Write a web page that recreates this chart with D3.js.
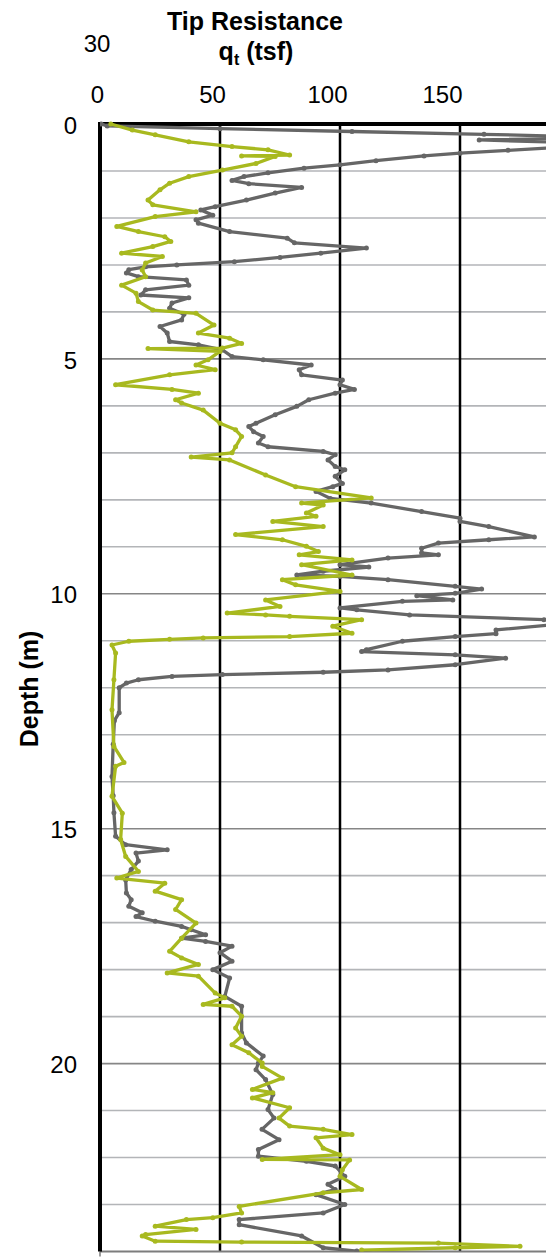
<!DOCTYPE html>
<html>
<head>
<meta charset="utf-8">
<script src="https://cdn.jsdelivr.net/npm/d3@7"></script>
<style>
  html, body { margin: 0; padding: 0; background: #fff; overflow: hidden; }
  svg { display: block; font-family: "Liberation Sans", Arial, sans-serif; }
</style>
</head>
<body>
<div id="chart"></div>
<script>
// Cone tip resistance profiles: [depth (m), qt (tsf)]
const soundingGray = [
  [0.00,0.5],[0.04,3],[0.10,50],[0.16,105],[0.22,160],[0.27,200],[0.30,205],[0.34,158],[0.39,195],[0.44,205],
  [0.50,190],[0.56,170],[0.62,150],[0.68,135],[0.78,115],[0.87,100],[0.94,85],[1.04,70],[1.12,60],[1.20,55],
  [1.27,62],[1.35,84],[1.47,73],[1.62,61],[1.76,48],[1.83,42],[1.94,47],[2.04,40],[2.11,41],[2.29,54],
  [2.43,78],[2.53,81],[2.64,111],[2.75,92],[2.84,75],[2.93,56],[3.00,32],[3.04,19],[3.10,12],[3.17,11],
  [3.25,16],[3.32,36],[3.43,37],[3.53,19],[3.64,17],[3.70,37],[3.81,30],[3.92,29],[4.05,35],[4.17,34],
  [4.31,25],[4.45,28],[4.63,29],[4.70,41],[4.81,51],[4.95,55],[5.02,68],[5.13,88],[5.23,83],[5.34,84],
  [5.45,101],[5.55,100],[5.65,106],[5.73,98],[5.87,87],[6.01,82],[6.19,73],[6.37,65],[6.44,62],[6.55,64],
  [6.65,68],[6.79,66],[6.87,70],[6.97,93],[7.04,98],[7.15,95],[7.29,98],[7.36,102],[7.50,98],[7.65,101],
  [7.72,97],[7.82,90],[7.97,96],[8.07,113],[8.25,134],[8.39,150],[8.46,150],[8.57,162],[8.79,181],[8.85,162],
  [8.92,141],[9.03,134],[9.13,134],[9.17,141],[9.24,120],[9.38,100],[9.43,112],[9.52,93],[9.60,82],[9.63,100],
  [9.70,120],[9.84,148],[9.90,159],[9.99,148],[10.04,132],[10.13,147],[10.16,126],[10.30,100],[10.34,107],[10.45,129],
  [10.55,185],[10.60,198],[10.66,188],[10.77,165],[10.85,165],[10.91,148],[11.01,126],[11.19,111],[11.23,109],[11.30,148],
  [11.37,169],[11.51,148],[11.62,120],[11.67,93],[11.72,51],[11.76,30],[11.83,16],[11.90,11],[12.00,8],[12.53,8],
  [12.70,6],[13.20,5.5],[13.89,5],[14.30,5.5],[14.66,5.8],[15.16,6.5],[15.34,10.7],[15.45,28],[15.52,15],[15.69,16],
  [15.87,13],[16.09,10.7],[16.37,11],[16.51,13],[16.65,12],[16.79,17.6],[16.87,15],[16.97,23],[17.08,34],[17.15,38],
  [17.26,44],[17.33,34],[17.40,44],[17.50,55],[17.64,50],[17.82,55],[18.00,47],[18.18,54],[18.57,52],[18.78,59],
  [19.35,59],[19.56,61],[19.84,68],[19.99,66],[20.13,65],[20.34,69],[20.66,72],[20.98,70],[21.16,72.5],[21.40,67.5],
  [21.62,74.6],[21.83,66],[21.97,66],[22.08,86],[22.18,98],[22.40,102],[22.57,95],[22.68,98],[22.79,90],[23.00,102],
  [23.18,93],[23.32,58],[23.43,58],[23.67,84],[23.92,93],[23.99,107],[24.10,120]
];

const soundingGreen = [
  [0.00,4.5],[0.13,13.5],[0.23,23],[0.38,37],[0.48,55],[0.55,70],[0.66,79],[0.68,59],[0.69,73],[0.84,65],
  [0.98,51],[1.12,37],[1.26,29],[1.40,25],[1.62,20],[1.72,22],[1.87,40],[1.97,23],[2.18,7],[2.29,16],
  [2.40,27],[2.50,29.5],[2.61,22],[2.75,9],[2.82,26],[2.96,19],[3.11,17.6],[3.25,19],[3.43,9],[3.60,15],
  [3.78,16],[3.96,22],[4.03,40],[4.28,47.5],[4.45,41],[4.56,54],[4.67,59],[4.77,51],[4.78,20],[4.84,50],
  [5.02,45],[5.13,40],[5.23,48],[5.34,29],[5.55,6.5],[5.65,30],[5.73,41],[5.87,31.5],[5.94,34],[6.09,43],
  [6.37,50],[6.51,56.5],[6.65,59],[6.87,56.5],[7.00,55],[7.09,38],[7.15,54],[7.47,69],[7.72,81.5],[7.96,113],
  [8.07,84],[8.11,93],[8.28,86],[8.35,90],[8.46,72],[8.57,93],[8.74,56.5],[8.85,76],[8.99,86],[9.10,91],
  [9.17,83],[9.28,105],[9.38,84],[9.60,105],[9.70,76],[9.81,81.5],[9.95,100],[10.13,69],[10.27,75],[10.41,53],
  [10.45,69],[10.48,79],[10.55,109],[10.69,97],[10.84,105],[10.91,79],[10.94,43],[10.97,29],[11.01,12],[11.09,5],
  [11.26,6.5],[11.83,5.8],[12.47,5],[13.25,5.8],[13.59,10],[13.67,6.5],[14.31,5],[14.67,9.3],[15.23,8.6],[15.59,10.7],
  [15.91,16],[16.05,7],[16.16,27],[16.33,23],[16.51,34],[16.72,31.5],[17.01,40],[17.33,34],[17.61,29],[17.75,34],
  [17.89,41],[18.07,28],[18.14,41],[18.50,48],[18.60,52],[18.74,43],[18.78,55],[18.99,59],[19.24,56.5],[19.42,59],
  [19.60,55],[19.77,62],[19.99,67.6],[20.06,67.6],[20.31,76],[20.55,63.5],[20.62,72],[20.73,63.5],[20.94,79],[21.16,74.6],
  [21.33,79],[21.40,93],[21.51,105],[21.58,90],[21.80,93],[21.94,100],[22.04,67.6],[22.05,104],[22.26,101],[22.40,100],
  [22.68,109],[22.75,93],[23.04,58],[23.18,59],[23.28,47],[23.32,36],[23.46,23],[23.53,40],[23.64,19],[23.67,17.6],
  [23.78,23],[23.80,59],[23.82,141],[23.89,175],[23.92,148],[23.97,109]
];

const qtTicks = [0, 50, 100, 150];
const qtGrid = [50, 100, 150, 200];
const depthTicks = [0, 5, 10, 15, 20];
const depthMinor = d3.range(1, 24);

const W = 546, H = 1257;
const svg = d3.select("#chart").append("svg").attr("width", W).attr("height", H);

const x = d3.scaleLinear().domain([0, 200]).range([100, 580]);
const y = d3.scaleLinear().domain([0, 24]).range([124, 1251.5]);
// tick labels along the top sit on their own, slightly tighter spacing
const xLabel = d3.scaleLinear().domain([0, 150]).range([97, 442]);

// horizontal grid: light every metre, darker every 5 m
svg.append("g").selectAll("line").data(depthMinor).join("line")
  .attr("x1", x(0)).attr("x2", W)
  .attr("y1", d => y(d)).attr("y2", d => y(d))
  .attr("stroke", d => d % 5 === 0 ? "#868686" : "#b3b5b8")
  .attr("stroke-width", 1.6);

// vertical grid
svg.append("g").selectAll("line").data(qtGrid).join("line")
  .attr("x1", d => x(d)).attr("x2", d => x(d))
  .attr("y1", y(0)).attr("y2", y(24))
  .attr("stroke", "#000").attr("stroke-width", 2.5);

// bottom edge
svg.append("line").attr("x1", x(0)).attr("x2", W).attr("y1", y(24)).attr("y2", y(24))
  .attr("stroke", "#7d7d7d").attr("stroke-width", 2);
svg.append("line").attr("x1", x(0)).attr("x2", x(0)).attr("y1", y(24)).attr("y2", y(24) + 5)
  .attr("stroke", "#7d7d7d").attr("stroke-width", 1.5);

// frame: top and left
svg.append("line").attr("x1", x(0) - 2).attr("x2", W).attr("y1", y(0)).attr("y2", y(0))
  .attr("stroke", "#000").attr("stroke-width", 4);
svg.append("line").attr("x1", x(0)).attr("x2", x(0)).attr("y1", y(0) - 2).attr("y2", y(24))
  .attr("stroke", "#000").attr("stroke-width", 4);

svg.append("clipPath").attr("id", "plot-clip").append("rect")
  .attr("x", x(0)).attr("y", y(0) - 4).attr("width", x(200) - x(0)).attr("height", y(24) - y(0) + 4);

const line = d3.line().x(d => x(d[1])).y(d => y(d[0]));
const series = [
  { data: soundingGray, color: "#666666" },
  { data: soundingGreen, color: "#a8b91f" }
];
const plot = svg.append("g").attr("clip-path", "url(#plot-clip)");
series.forEach(s => {
  const g = plot.append("g");
  g.append("path").datum(s.data).attr("d", line)
    .attr("fill", "none").attr("stroke", s.color).attr("stroke-width", 3.3)
    .attr("stroke-linejoin", "round").attr("stroke-linecap", "round");
  g.selectAll("circle").data(s.data).join("circle")
    .attr("cx", d => x(d[1])).attr("cy", d => y(d[0])).attr("r", 2.5)
    .attr("fill", s.color);
});

// axes labels
const yAxis = svg.append("g").attr("transform", "translate(77,0)")
  .call(d3.axisLeft(y).tickValues(depthTicks).tickSize(0).tickPadding(0));
yAxis.select(".domain").remove();
yAxis.selectAll("text").attr("font-size", 24).attr("font-family", "Liberation Sans, Arial, sans-serif")
  .attr("fill", "#000").attr("dy", "0.38em");

const xAxis = svg.append("g").attr("transform", "translate(0,103)")
  .call(d3.axisTop(xLabel).tickValues(qtTicks).tickSize(0).tickPadding(0));
xAxis.select(".domain").remove();
xAxis.selectAll("text").attr("font-size", 24).attr("font-family", "Liberation Sans, Arial, sans-serif")
  .attr("fill", "#000").attr("dy", "0");

svg.append("text").attr("x", 97).attr("y", 52).attr("text-anchor", "middle")
  .attr("font-size", 24).text("30");

svg.append("text").attr("x", 255).attr("y", 30).attr("text-anchor", "middle")
  .attr("font-size", 25).attr("font-weight", "bold").text("Tip Resistance");
const sub = svg.append("text").attr("x", 256).attr("y", 60).attr("text-anchor", "middle")
  .attr("font-size", 25).attr("font-weight", "bold");
sub.append("tspan").text("q");
sub.append("tspan").attr("font-size", 16).attr("dy", 5).text("t");
sub.append("tspan").attr("dy", -5).text(" (tsf)");

svg.append("text").attr("transform", "translate(38,689) rotate(-90)")
  .attr("text-anchor", "middle").attr("font-size", 25).attr("font-weight", "bold")
  .text("Depth (m)");
</script>
</body>
</html>
